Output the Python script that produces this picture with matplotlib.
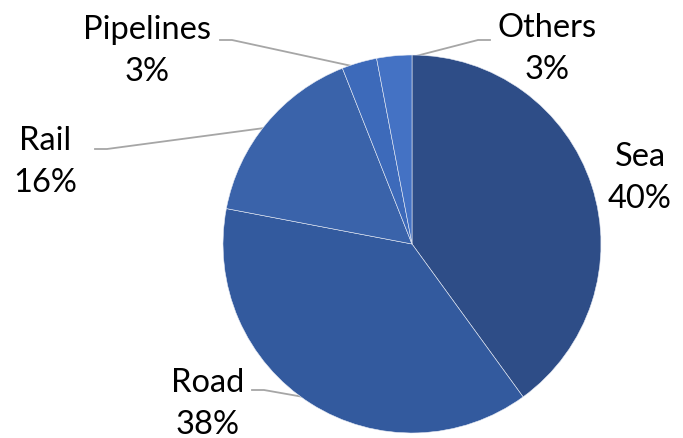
import numpy as np
import matplotlib
matplotlib.use("Agg")
import matplotlib.pyplot as plt

# data
labels = ["Sea", "Road", "Rail", "Pipelines", "Others"]
shares = [40, 38, 16, 3, 3]
colors = ["#2E4D87", "#335A9E", "#3A63AA", "#3D6ABA", "#4472C4"]

# label text anchors in pixel coords (x, y from top)
label_pos = [(640, 178), (208, 404), (45, 162), (147, 51), (547, 49)]
# leader elbow (where line meets text), None = no leader
elbows = [None, (252, 391), (95, 150), (220, 41), (490, 41)]

W, H = 683, 439
CX, CY, R = 412, 245, 189

fig = plt.figure(figsize=(W / 100, H / 100), dpi=100)
ax = fig.add_axes([0, 0, 1, 1])

wedges, _ = ax.pie(shares, colors=colors, startangle=90, counterclock=False,
                   center=(CX, H - CY), radius=R,
                   wedgeprops=dict(edgecolor="#E8ECF5", linewidth=0.4))
# pie() sets its own limits, so override afterwards
ax.set_xlim(0, W)
ax.set_ylim(0, H)
ax.set_aspect("equal")
ax.axis("off")

font = ["Lato", "DejaVu Sans"]
for w, lab, s, (tx, ty), el in zip(wedges, labels, shares, label_pos, elbows):
    ax.text(tx, H - ty, "%s\n%d%%" % (lab, s), ha="center", va="center",
            fontsize=23.5, family=font, linespacing=1.48, color="black")
    if el is None:
        continue
    mid = np.deg2rad((w.theta1 + w.theta2) / 2)
    px = CX + 0.97 * R * np.cos(mid)
    py = (H - CY) + 0.97 * R * np.sin(mid)
    ex, ey = el
    side = -1 if ex < CX else 1
    xs = [px, ex - side * 12, ex]
    ys = [py, H - ey, H - ey]
    ax.plot(xs, ys, color="#A6A6A6", lw=1.3, zorder=0.5)

fig.savefig("out.png", dpi=100)
